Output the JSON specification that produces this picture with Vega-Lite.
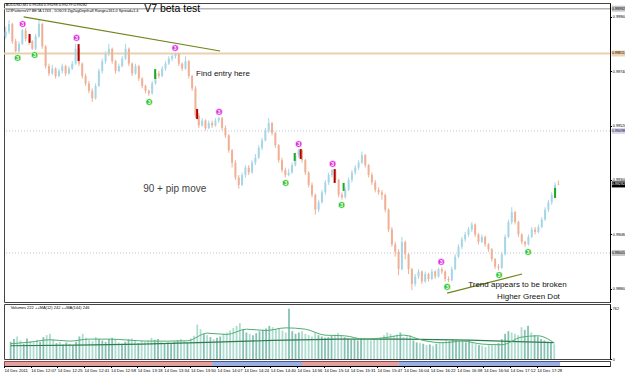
{
"$schema": "https://vega.github.io/schema/vega-lite/v6.json",
"padding": {"left": 2, "top": 2, "right": 0, "bottom": 0},
"spacing": 2,
"bounds": "flush",
"resolve": {"scale": {"color": "independent"}},
"datasets": {
"k": [
{"i":0,"o":0.99880,"h":0.99920,"l":0.99870,"c":0.99900,"v":260},
{"i":1,"o":0.99900,"h":0.99945,"l":0.99890,"c":0.99930,"v":300},
{"i":2,"o":0.99930,"h":0.99935,"l":0.99850,"c":0.99860,"v":340},
{"i":3,"o":0.99860,"h":0.99870,"l":0.99815,"c":0.99820,"v":280},
{"i":4,"o":0.99820,"h":0.99860,"l":0.99815,"c":0.99850,"v":230},
{"i":5,"o":0.99850,"h":0.99910,"l":0.99845,"c":0.99905,"v":310},
{"i":6,"o":0.99905,"h":0.99915,"l":0.99860,"c":0.99870,"v":270},
{"i":7,"o":0.99870,"h":0.99890,"l":0.99845,"c":0.99860,"v":250},
{"i":8,"o":0.99860,"h":0.99865,"l":0.99825,"c":0.99830,"v":290},
{"i":9,"o":0.99830,"h":0.99890,"l":0.99825,"c":0.99880,"v":260},
{"i":10,"o":0.99880,"h":0.99950,"l":0.99875,"c":0.99930,"v":330},
{"i":11,"o":0.99930,"h":0.99935,"l":0.99830,"c":0.99840,"v":360},
{"i":12,"o":0.99840,"h":0.99845,"l":0.99750,"c":0.99760,"v":380},
{"i":13,"o":0.99760,"h":0.99770,"l":0.99720,"c":0.99730,"v":300},
{"i":14,"o":0.99730,"h":0.99765,"l":0.99725,"c":0.99750,"v":240},
{"i":15,"o":0.99750,"h":0.99755,"l":0.99710,"c":0.99720,"v":260},
{"i":16,"o":0.99720,"h":0.99750,"l":0.99715,"c":0.99740,"v":220},
{"i":17,"o":0.99740,"h":0.99770,"l":0.99730,"c":0.99760,"v":250},
{"i":18,"o":0.99760,"h":0.99765,"l":0.99720,"c":0.99730,"v":230},
{"i":19,"o":0.99730,"h":0.99760,"l":0.99725,"c":0.99750,"v":210},
{"i":20,"o":0.99750,"h":0.99780,"l":0.99745,"c":0.99770,"v":260},
{"i":21,"o":0.99770,"h":0.99850,"l":0.99765,"c":0.99830,"v":340},
{"i":22,"o":0.99830,"h":0.99835,"l":0.99760,"c":0.99770,"v":380},
{"i":23,"o":0.99770,"h":0.99775,"l":0.99710,"c":0.99720,"v":320},
{"i":24,"o":0.99720,"h":0.99730,"l":0.99680,"c":0.99690,"v":290},
{"i":25,"o":0.99690,"h":0.99700,"l":0.99650,"c":0.99660,"v":270},
{"i":26,"o":0.99660,"h":0.99670,"l":0.99615,"c":0.99630,"v":330},
{"i":27,"o":0.99630,"h":0.99690,"l":0.99625,"c":0.99680,"v":300},
{"i":28,"o":0.99680,"h":0.99750,"l":0.99675,"c":0.99740,"v":280},
{"i":29,"o":0.99740,"h":0.99790,"l":0.99730,"c":0.99780,"v":260},
{"i":30,"o":0.99780,"h":0.99820,"l":0.99770,"c":0.99810,"v":300},
{"i":31,"o":0.99810,"h":0.99850,"l":0.99800,"c":0.99830,"v":320},
{"i":32,"o":0.99830,"h":0.99835,"l":0.99770,"c":0.99780,"v":290},
{"i":33,"o":0.99780,"h":0.99785,"l":0.99730,"c":0.99740,"v":250},
{"i":34,"o":0.99740,"h":0.99770,"l":0.99735,"c":0.99760,"v":230},
{"i":35,"o":0.99760,"h":0.99800,"l":0.99755,"c":0.99790,"v":260},
{"i":36,"o":0.99790,"h":0.99850,"l":0.99785,"c":0.99830,"v":300},
{"i":37,"o":0.99830,"h":0.99835,"l":0.99760,"c":0.99770,"v":310},
{"i":38,"o":0.99770,"h":0.99775,"l":0.99720,"c":0.99730,"v":280},
{"i":39,"o":0.99730,"h":0.99770,"l":0.99725,"c":0.99760,"v":240},
{"i":40,"o":0.99760,"h":0.99765,"l":0.99700,"c":0.99710,"v":270},
{"i":41,"o":0.99710,"h":0.99715,"l":0.99670,"c":0.99680,"v":260},
{"i":42,"o":0.99680,"h":0.99685,"l":0.99650,"c":0.99660,"v":280},
{"i":43,"o":0.99660,"h":0.99665,"l":0.99640,"c":0.99650,"v":320},
{"i":44,"o":0.99650,"h":0.99700,"l":0.99645,"c":0.99690,"v":290},
{"i":45,"o":0.99690,"h":0.99745,"l":0.99685,"c":0.99730,"v":300},
{"i":46,"o":0.99730,"h":0.99740,"l":0.99710,"c":0.99720,"v":260},
{"i":47,"o":0.99720,"h":0.99760,"l":0.99715,"c":0.99750,"v":240},
{"i":48,"o":0.99750,"h":0.99780,"l":0.99740,"c":0.99770,"v":250},
{"i":49,"o":0.99770,"h":0.99800,"l":0.99765,"c":0.99790,"v":230},
{"i":50,"o":0.99790,"h":0.99810,"l":0.99780,"c":0.99800,"v":260},
{"i":51,"o":0.99800,"h":0.99815,"l":0.99790,"c":0.99810,"v":280},
{"i":52,"o":0.99810,"h":0.99815,"l":0.99760,"c":0.99770,"v":300},
{"i":53,"o":0.99770,"h":0.99775,"l":0.99740,"c":0.99750,"v":270},
{"i":54,"o":0.99750,"h":0.99800,"l":0.99745,"c":0.99780,"v":250},
{"i":55,"o":0.99780,"h":0.99785,"l":0.99710,"c":0.99720,"v":310},
{"i":56,"o":0.99720,"h":0.99725,"l":0.99660,"c":0.99670,"v":350},
{"i":57,"o":0.99670,"h":0.99680,"l":0.99550,"c":0.99560,"v":520},
{"i":58,"o":0.99560,"h":0.99570,"l":0.99510,"c":0.99520,"v":450},
{"i":59,"o":0.99520,"h":0.99550,"l":0.99515,"c":0.99540,"v":380},
{"i":60,"o":0.99540,"h":0.99545,"l":0.99500,"c":0.99510,"v":360},
{"i":61,"o":0.99510,"h":0.99540,"l":0.99505,"c":0.99530,"v":330},
{"i":62,"o":0.99530,"h":0.99540,"l":0.99510,"c":0.99520,"v":300},
{"i":63,"o":0.99520,"h":0.99550,"l":0.99515,"c":0.99540,"v":320},
{"i":64,"o":0.99540,"h":0.99555,"l":0.99530,"c":0.99550,"v":340},
{"i":65,"o":0.99550,"h":0.99555,"l":0.99500,"c":0.99510,"v":380},
{"i":66,"o":0.99510,"h":0.99520,"l":0.99470,"c":0.99480,"v":400},
{"i":67,"o":0.99480,"h":0.99485,"l":0.99410,"c":0.99420,"v":430},
{"i":68,"o":0.99420,"h":0.99425,"l":0.99350,"c":0.99370,"v":470},
{"i":69,"o":0.99370,"h":0.99380,"l":0.99300,"c":0.99310,"v":500},
{"i":70,"o":0.99310,"h":0.99320,"l":0.99265,"c":0.99280,"v":540},
{"i":71,"o":0.99280,"h":0.99330,"l":0.99275,"c":0.99320,"v":450},
{"i":72,"o":0.99320,"h":0.99360,"l":0.99310,"c":0.99350,"v":400},
{"i":73,"o":0.99350,"h":0.99360,"l":0.99320,"c":0.99330,"v":380},
{"i":74,"o":0.99330,"h":0.99380,"l":0.99325,"c":0.99370,"v":360},
{"i":75,"o":0.99370,"h":0.99405,"l":0.99360,"c":0.99390,"v":390},
{"i":76,"o":0.99390,"h":0.99440,"l":0.99385,"c":0.99430,"v":420},
{"i":77,"o":0.99430,"h":0.99470,"l":0.99420,"c":0.99460,"v":440},
{"i":78,"o":0.99460,"h":0.99510,"l":0.99455,"c":0.99500,"v":460},
{"i":79,"o":0.99500,"h":0.99550,"l":0.99490,"c":0.99530,"v":500},
{"i":80,"o":0.99530,"h":0.99535,"l":0.99480,"c":0.99490,"v":480},
{"i":81,"o":0.99490,"h":0.99495,"l":0.99430,"c":0.99440,"v":450},
{"i":82,"o":0.99440,"h":0.99445,"l":0.99370,"c":0.99380,"v":470},
{"i":83,"o":0.99380,"h":0.99390,"l":0.99330,"c":0.99340,"v":430},
{"i":84,"o":0.99340,"h":0.99350,"l":0.99310,"c":0.99320,"v":400},
{"i":85,"o":0.99320,"h":0.99345,"l":0.99315,"c":0.99330,"v":760},
{"i":86,"o":0.99330,"h":0.99370,"l":0.99325,"c":0.99360,"v":420},
{"i":87,"o":0.99360,"h":0.99410,"l":0.99355,"c":0.99400,"v":380},
{"i":88,"o":0.99400,"h":0.99425,"l":0.99390,"c":0.99420,"v":400},
{"i":89,"o":0.99420,"h":0.99425,"l":0.99370,"c":0.99380,"v":420},
{"i":90,"o":0.99380,"h":0.99385,"l":0.99320,"c":0.99330,"v":380},
{"i":91,"o":0.99330,"h":0.99335,"l":0.99270,"c":0.99280,"v":360},
{"i":92,"o":0.99280,"h":0.99290,"l":0.99230,"c":0.99240,"v":340},
{"i":93,"o":0.99240,"h":0.99245,"l":0.99160,"c":0.99180,"v":400},
{"i":94,"o":0.99180,"h":0.99220,"l":0.99170,"c":0.99210,"v":360},
{"i":95,"o":0.99210,"h":0.99260,"l":0.99205,"c":0.99250,"v":340},
{"i":96,"o":0.99250,"h":0.99300,"l":0.99240,"c":0.99290,"v":320},
{"i":97,"o":0.99290,"h":0.99330,"l":0.99280,"c":0.99320,"v":330},
{"i":98,"o":0.99320,"h":0.99345,"l":0.99310,"c":0.99340,"v":350},
{"i":99,"o":0.99340,"h":0.99345,"l":0.99290,"c":0.99300,"v":370},
{"i":100,"o":0.99300,"h":0.99305,"l":0.99230,"c":0.99240,"v":390},
{"i":101,"o":0.99240,"h":0.99250,"l":0.99220,"c":0.99230,"v":360},
{"i":102,"o":0.99230,"h":0.99270,"l":0.99225,"c":0.99260,"v":330},
{"i":103,"o":0.99260,"h":0.99310,"l":0.99255,"c":0.99300,"v":310},
{"i":104,"o":0.99300,"h":0.99340,"l":0.99290,"c":0.99330,"v":290},
{"i":105,"o":0.99330,"h":0.99360,"l":0.99320,"c":0.99350,"v":300},
{"i":106,"o":0.99350,"h":0.99380,"l":0.99340,"c":0.99370,"v":280},
{"i":107,"o":0.99370,"h":0.99415,"l":0.99365,"c":0.99400,"v":300},
{"i":108,"o":0.99400,"h":0.99405,"l":0.99350,"c":0.99360,"v":320},
{"i":109,"o":0.99360,"h":0.99365,"l":0.99310,"c":0.99320,"v":290},
{"i":110,"o":0.99320,"h":0.99330,"l":0.99280,"c":0.99290,"v":280},
{"i":111,"o":0.99290,"h":0.99300,"l":0.99250,"c":0.99260,"v":300},
{"i":112,"o":0.99260,"h":0.99270,"l":0.99240,"c":0.99250,"v":290},
{"i":113,"o":0.99250,"h":0.99260,"l":0.99220,"c":0.99240,"v":320},
{"i":114,"o":0.99240,"h":0.99245,"l":0.99170,"c":0.99180,"v":360},
{"i":115,"o":0.99180,"h":0.99185,"l":0.99090,"c":0.99100,"v":400},
{"i":116,"o":0.99100,"h":0.99110,"l":0.99030,"c":0.99040,"v":380},
{"i":117,"o":0.99040,"h":0.99050,"l":0.98990,"c":0.99010,"v":350},
{"i":118,"o":0.99010,"h":0.99020,"l":0.98915,"c":0.98940,"v":370},
{"i":119,"o":0.98940,"h":0.99070,"l":0.98935,"c":0.99050,"v":400},
{"i":120,"o":0.99050,"h":0.99055,"l":0.98980,"c":0.99000,"v":330},
{"i":121,"o":0.99000,"h":0.99005,"l":0.98920,"c":0.98940,"v":340},
{"i":122,"o":0.98940,"h":0.98945,"l":0.98855,"c":0.98880,"v":360},
{"i":123,"o":0.98880,"h":0.98920,"l":0.98870,"c":0.98910,"v":280},
{"i":124,"o":0.98910,"h":0.98940,"l":0.98900,"c":0.98930,"v":250},
{"i":125,"o":0.98930,"h":0.98935,"l":0.98880,"c":0.98890,"v":240},
{"i":126,"o":0.98890,"h":0.98930,"l":0.98885,"c":0.98920,"v":230},
{"i":127,"o":0.98920,"h":0.98925,"l":0.98890,"c":0.98900,"v":210},
{"i":128,"o":0.98900,"h":0.98940,"l":0.98895,"c":0.98930,"v":220},
{"i":129,"o":0.98930,"h":0.98935,"l":0.98900,"c":0.98910,"v":200},
{"i":130,"o":0.98910,"h":0.98945,"l":0.98905,"c":0.98940,"v":230},
{"i":131,"o":0.98940,"h":0.98948,"l":0.98920,"c":0.98930,"v":240},
{"i":132,"o":0.98930,"h":0.98935,"l":0.98890,"c":0.98900,"v":260},
{"i":133,"o":0.98900,"h":0.98910,"l":0.98888,"c":0.98895,"v":280},
{"i":134,"o":0.98895,"h":0.98950,"l":0.98890,"c":0.98940,"v":270},
{"i":135,"o":0.98940,"h":0.99000,"l":0.98935,"c":0.98990,"v":290},
{"i":136,"o":0.98990,"h":0.99040,"l":0.98985,"c":0.99030,"v":280},
{"i":137,"o":0.99030,"h":0.99070,"l":0.99020,"c":0.99060,"v":260},
{"i":138,"o":0.99060,"h":0.99090,"l":0.99050,"c":0.99080,"v":270},
{"i":139,"o":0.99080,"h":0.99110,"l":0.99070,"c":0.99100,"v":250},
{"i":140,"o":0.99100,"h":0.99130,"l":0.99090,"c":0.99120,"v":280},
{"i":141,"o":0.99120,"h":0.99125,"l":0.99070,"c":0.99080,"v":260},
{"i":142,"o":0.99080,"h":0.99085,"l":0.99040,"c":0.99050,"v":230},
{"i":143,"o":0.99050,"h":0.99080,"l":0.99045,"c":0.99070,"v":210},
{"i":144,"o":0.99070,"h":0.99075,"l":0.99030,"c":0.99040,"v":200},
{"i":145,"o":0.99040,"h":0.99045,"l":0.99010,"c":0.99020,"v":180},
{"i":146,"o":0.99020,"h":0.99025,"l":0.98970,"c":0.98980,"v":210},
{"i":147,"o":0.98980,"h":0.98985,"l":0.98940,"c":0.98950,"v":220},
{"i":148,"o":0.98950,"h":0.98960,"l":0.98935,"c":0.98945,"v":230},
{"i":149,"o":0.98945,"h":0.99010,"l":0.98940,"c":0.99000,"v":240},
{"i":150,"o":0.99000,"h":0.99080,"l":0.98995,"c":0.99070,"v":300},
{"i":151,"o":0.99070,"h":0.99140,"l":0.99065,"c":0.99130,"v":380},
{"i":152,"o":0.99130,"h":0.99190,"l":0.99120,"c":0.99170,"v":420},
{"i":153,"o":0.99170,"h":0.99175,"l":0.99120,"c":0.99130,"v":400},
{"i":154,"o":0.99130,"h":0.99135,"l":0.99070,"c":0.99080,"v":380},
{"i":155,"o":0.99080,"h":0.99085,"l":0.99040,"c":0.99050,"v":360},
{"i":156,"o":0.99050,"h":0.99055,"l":0.99030,"c":0.99040,"v":480},
{"i":157,"o":0.99040,"h":0.99080,"l":0.99035,"c":0.99070,"v":440},
{"i":158,"o":0.99070,"h":0.99110,"l":0.99065,"c":0.99100,"v":500},
{"i":159,"o":0.99100,"h":0.99110,"l":0.99080,"c":0.99090,"v":400},
{"i":160,"o":0.99090,"h":0.99120,"l":0.99085,"c":0.99110,"v":360},
{"i":161,"o":0.99110,"h":0.99150,"l":0.99105,"c":0.99140,"v":340},
{"i":162,"o":0.99140,"h":0.99190,"l":0.99135,"c":0.99180,"v":300},
{"i":163,"o":0.99180,"h":0.99220,"l":0.99170,"c":0.99210,"v":280},
{"i":164,"o":0.99210,"h":0.99250,"l":0.99200,"c":0.99240,"v":260},
{"i":165,"o":0.99240,"h":0.99290,"l":0.99230,"c":0.99280,"v":250},
{"i":166,"o":0.99284,"h":0.99298,"l":0.99279,"c":0.99282,"v":222}
],
"dots": [
{"i":5.1,"p":0.99930,"t":"hi"},{"i":21.3,"p":0.99874,"t":"hi"},{"i":50.9,"p":0.99833,"t":"hi"},{"i":64.1,"p":0.99575,"t":"hi"},{"i":88.0,"p":0.99445,"t":"hi"},{"i":98.2,"p":0.99365,"t":"hi"},{"i":130.8,"p":0.98969,"t":"hi"},
{"i":3.6,"p":0.99793,"t":"lo"},{"i":8.7,"p":0.99805,"t":"lo"},{"i":43.1,"p":0.99615,"t":"lo"},{"i":84.1,"p":0.99288,"t":"lo"},{"i":100.9,"p":0.99199,"t":"lo"},{"i":132.6,"p":0.98868,"t":"lo"},{"i":148.2,"p":0.98916,"t":"lo"},{"i":156.9,"p":0.99009,"t":"lo"}
],
"sig": [
{"i":7.2,"a":0.99890,"b":0.99854,"t":"sell"},{"i":21.9,"a":0.99849,"b":0.99781,"t":"sell"},{"i":57.5,"a":0.99587,"b":0.99546,"t":"sell"},{"i":88.6,"a":0.99425,"b":0.99385,"t":"sell"},{"i":98.8,"a":0.99344,"b":0.99288,"t":"sell"},
{"i":44.9,"a":0.99748,"b":0.99708,"t":"buy"},{"i":86.8,"a":0.99409,"b":0.99377,"t":"buy"},{"i":101.5,"a":0.99288,"b":0.99256,"t":"buy"},{"i":165,"a":0.99268,"b":0.99227,"t":"buy"}
],
"m12": [
{"i":0,"v":230},{"i":6,"v":255},{"i":12,"v":290},{"i":18,"v":270},{"i":24,"v":300},{"i":30,"v":300},{"i":36,"v":285},{"i":42,"v":270},{"i":48,"v":270},{"i":54,"v":275},{"i":60,"v":390},{"i":66,"v":370},{"i":72,"v":450},{"i":78,"v":430},{"i":84,"v":470},{"i":90,"v":450},{"i":96,"v":360},{"i":102,"v":350},{"i":108,"v":300},{"i":114,"v":320},{"i":120,"v":360},{"i":126,"v":280},{"i":132,"v":245},{"i":138,"v":270},{"i":144,"v":225},{"i":150,"v":215},{"i":156,"v":330},{"i":161,"v":350},{"i":166,"v":242}
],
"m144": [
{"i":0,"v":200},{"i":20,"v":210},{"i":40,"v":225},{"i":60,"v":250},{"i":80,"v":280},{"i":100,"v":300},{"i":120,"v":300},{"i":140,"v":285},{"i":166,"v":246}
],
"tags": [
{"i":184.3,"j":182.0,"p":0.99992,"t":"0.99992","k":"g"},{"i":184.3,"j":182.0,"p":0.99811,"t":"0.99811","k":"tan"},{"i":184.3,"j":182.0,"p":0.99498,"t":"0.99498","k":"lav"},{"i":184.3,"j":182.0,"p":0.99282,"t":"0.99282","k":"cur"},{"i":184.3,"j":182.0,"p":0.99005,"t":"0.99005","k":"g"}
]
},
"vconcat": [
{
"width": 606, "height": 299,
"resolve": {"scale": {"color": "independent", "fill": "independent"}},
"layer": [
{"data": {"name": "k"}, "mark": {"type": "rule", "strokeWidth": 1},
 "encoding": {
  "x": {"field": "i", "type": "quantitative", "scale": {"domain": [-0.5, 181.5], "nice": false, "zero": false}, "axis": null},
  "y": {"field": "l", "type": "quantitative", "scale": {"domain": [0.98807, 1.00015], "nice": false, "zero": false},
        "axis": {"orient": "right", "title": null, "format": ".5f", "values": [0.9886,0.98915,0.9897,0.99025,0.9908,0.99135,0.9919,0.99245,0.993,0.99355,0.9941,0.99465,0.9952,0.99575,0.9963,0.99685,0.9974,0.99795,0.9985,0.99905,0.9996,1.00015]}},
  "y2": {"field": "h"},
  "color": {"condition": {"test": "datum.c >= datum.o", "value": "#a6d6e6"}, "value": "#f0b096"}
 }},
{"data": {"values": [{"p": 0.99811}]}, "mark": {"type": "rule", "color": "#ebcfae", "strokeWidth": 2}, "encoding": {"y": {"field": "p", "type": "quantitative"}}},
{"data": {"values": [{"p": 0.99992}]}, "mark": {"type": "rule", "color": "#b4b4b4", "strokeWidth": 1.5}, "encoding": {"y": {"field": "p", "type": "quantitative"}}},
{"data": {"values": [{"p": 0.99498}, {"p": 0.99005}]}, "mark": {"type": "rule", "color": "#c4c4d8", "strokeWidth": 1, "strokeDash": [1, 2]}, "encoding": {"y": {"field": "p", "type": "quantitative"}}},
{"data": {"values": [{"g":"a","i":5.4,"p":0.99959},{"g":"a","i":64.4,"p":0.99821},{"g":"b","i":132.6,"p":0.98843},{"g":"b","i":155.1,"p":0.98920}]}, "mark": {"type": "line", "color": "#73841c", "strokeWidth": 1.2}, "encoding": {"x": {"field": "i", "type": "quantitative"}, "y": {"field": "p", "type": "quantitative"}, "detail": {"field": "g", "type": "nominal"}}},
{"data": {"name": "k"}, "mark": {"type": "rule", "strokeWidth": 2},
 "encoding": {
  "x": {"field": "i", "type": "quantitative"},
  "y": {"field": "o", "type": "quantitative"},
  "y2": {"field": "c"},
  "color": {"condition": {"test": "datum.c >= datum.o", "value": "#a6d6e6"}, "value": "#f0b096"}
 }},
{"data": {"name": "sig"}, "mark": {"type": "rule", "strokeWidth": 2},
 "encoding": {
  "x": {"field": "i", "type": "quantitative"},
  "y": {"field": "a", "type": "quantitative"},
  "y2": {"field": "b"},
  "color": {"field": "t", "type": "nominal", "scale": {"domain": ["sell", "buy"], "range": ["#b40000", "#1fa81f"]}, "legend": null}
 }},
{"data": {"name": "dots"}, "mark": {"type": "circle", "size": 44, "opacity": 1, "stroke": "#ffffff", "strokeWidth": 0.6},
 "encoding": {
  "x": {"field": "i", "type": "quantitative"},
  "y": {"field": "p", "type": "quantitative"},
  "fill": {"field": "t", "type": "nominal", "scale": {"domain": ["hi", "lo"], "range": ["#dd2adf", "#2fc42f"]}, "legend": null}
 }},
{"data": {"name": "dots"}, "mark": {"type": "text", "text": "3", "fontSize": 5.5, "fontWeight": "bold", "color": "#ffffff", "align": "center", "baseline": "middle"},
 "encoding": {
  "x": {"field": "i", "type": "quantitative"},
  "y": {"field": "p", "type": "quantitative"}
 }},
{"data": {"values": [{"i": 0, "p": 1.00007, "t": "AUDUSD,M1  0.99284 0.99298 0.99279 0.99282"}, {"i": 0, "p": 0.99983, "t": "123PatternsV7 BETA 1743 - 5O6O3 ZigZagDepth=8 Range=161.0 Spread=1.4"}]},
 "mark": {"type": "text", "fontSize": 3.8, "align": "left", "baseline": "middle", "color": "#000000"},
 "encoding": {"x": {"field": "i", "type": "quantitative"}, "y": {"field": "p", "type": "quantitative"}, "text": {"field": "t", "type": "nominal"}}},
{"data": {"values": [{"i": 41.6, "p": 0.99991, "t": "V7 beta test"}]},
 "mark": {"type": "text", "fontSize": 10.5, "align": "left", "baseline": "middle", "color": "#000000"},
 "encoding": {"x": {"field": "i", "type": "quantitative"}, "y": {"field": "p", "type": "quantitative"}, "text": {"field": "t", "type": "nominal"}}},
{"data": {"values": [{"i": 41.3, "p": 0.99264, "t": "90 + pip move"}]},
 "mark": {"type": "text", "fontSize": 10, "align": "left", "baseline": "middle", "color": "#444444"},
 "encoding": {"x": {"field": "i", "type": "quantitative"}, "y": {"field": "p", "type": "quantitative"}, "text": {"field": "t", "type": "nominal"}}},
{"data": {"values": [{"i": 57.2, "p": 0.99728, "t": "Find entry here"}, {"i": 138.9, "p": 0.98876, "t": "Trend appears to be broken"}, {"i": 147.6, "p": 0.98827, "t": "Higher Green Dot"}]},
 "mark": {"type": "text", "fontSize": 8, "align": "left", "baseline": "middle", "color": "#111111"},
 "encoding": {"x": {"field": "i", "type": "quantitative"}, "y": {"field": "p", "type": "quantitative"}, "text": {"field": "t", "type": "nominal"}}},
{"data": {"name": "tags"},
 "mark": {"type": "tick", "orient": "horizontal", "size": 15, "thickness": 6, "opacity": 1},
 "encoding": {"x": {"field": "i", "type": "quantitative"}, "y": {"field": "p", "type": "quantitative"},
  "color": {"field": "k", "type": "nominal", "scale": {"domain": ["g", "tan", "lav", "cur"], "range": ["#c8c8c8", "#f0d4b0", "#d8d8f2", "#000000"]}, "legend": null}}},
{"data": {"name": "tags"},
 "mark": {"type": "text", "fontSize": 3.7, "align": "left", "baseline": "middle"},
 "encoding": {"x": {"field": "j", "type": "quantitative"}, "y": {"field": "p", "type": "quantitative"}, "text": {"field": "t", "type": "nominal"},
  "color": {"condition": {"test": "datum.k == 'cur'", "value": "#ffffff"}, "value": "#000000"}}}
]
},
{
"width": 606, "height": 55,
"layer": [
{"data": {"name": "k"}, "mark": {"type": "bar", "width": 1.8},
 "encoding": {
  "x": {"field": "i", "type": "quantitative", "scale": {"domain": [-0.5, 181.5], "nice": false, "zero": false}, "axis": null},
  "y": {"field": "v", "type": "quantitative", "scale": {"domain": [0, 830], "nice": false}, "axis": {"orient": "right", "title": null, "values": [0, 762], "format": "d"}},
  "color": {"condition": {"test": "datum.c >= datum.o", "value": "#86c2b4"}, "value": "#aedcd0"}
 }},
{"data": {"name": "m144"}, "mark": {"type": "line", "color": "#2f7d4c", "strokeWidth": 1.2},
 "encoding": {"x": {"field": "i", "type": "quantitative"}, "y": {"field": "v", "type": "quantitative"}}},
{"data": {"name": "m12"}, "mark": {"type": "line", "color": "#4fae73", "strokeWidth": 1, "interpolate": "monotone"},
 "encoding": {"x": {"field": "i", "type": "quantitative"}, "y": {"field": "v", "type": "quantitative"}}},
{"data": {"values": [{"i": 0, "v": 770, "t": "Volumes 222  ++MA(12) 242  ++MA(144) 246"}]},
 "mark": {"type": "text", "fontSize": 4, "align": "left", "baseline": "middle", "color": "#000000"},
 "encoding": {"x": {"field": "i", "type": "quantitative"}, "y": {"field": "v", "type": "quantitative"}, "text": {"field": "t", "type": "nominal"}}}
]
},
{
"width": 606, "height": 5,
"data": {"values": [{"a": -0.5, "b": 62, "s": "dn"}, {"a": 62, "b": 89, "s": "up"}, {"a": 89, "b": 118, "s": "dn"}, {"a": 118, "b": 166.5, "s": "up"}]},
"mark": {"type": "rect", "opacity": 0.55},
"encoding": {
  "x": {"field": "a", "type": "quantitative", "scale": {"domain": [-0.5, 181.5], "nice": false, "zero": false},
        "axis": {"title": null, "labelFontSize": 4.2, "values": [-0.5,7.5,15.5,23.5,31.5,39.5,47.5,55.5,63.5,71.5,79.5,87.5,95.5,103.5,111.5,119.5,127.5,135.5,143.5,151.5,159.5], "labelAlign": "left", "labelOverlap": false, "labelFlush": false,
                 "labelExpr": "['14 Dec 2011','14 Dec 12:07','14 Dec 12:25','14 Dec 12:41','14 Dec 12:58','14 Dec 13:18','14 Dec 13:34','14 Dec 13:50','14 Dec 14:07','14 Dec 14:24','14 Dec 14:40','14 Dec 14:56','14 Dec 15:14','14 Dec 15:31','14 Dec 15:47','14 Dec 16:04','14 Dec 16:22','14 Dec 16:38','14 Dec 16:54','14 Dec 17:12','14 Dec 17:28'][round((datum.value+0.5)/8)]"}},
  "x2": {"field": "b"},
  "color": {"field": "s", "type": "nominal", "scale": {"domain": ["dn", "up"], "range": ["#d05050", "#4a6ed0"]}, "legend": null}
}
}
],
"config": {
 "font": "Liberation Sans",
 "view": {"stroke": "#444444", "strokeWidth": 1},
 "axis": {"labelFont": "Liberation Sans", "labelFontSize": 3.7, "labelColor": "#000000", "tickSize": 1.5, "tickColor": "#000000", "domainColor": "#000000", "labelPadding": 0.8, "grid": false},
 "text": {"font": "Liberation Sans"}
}
}
